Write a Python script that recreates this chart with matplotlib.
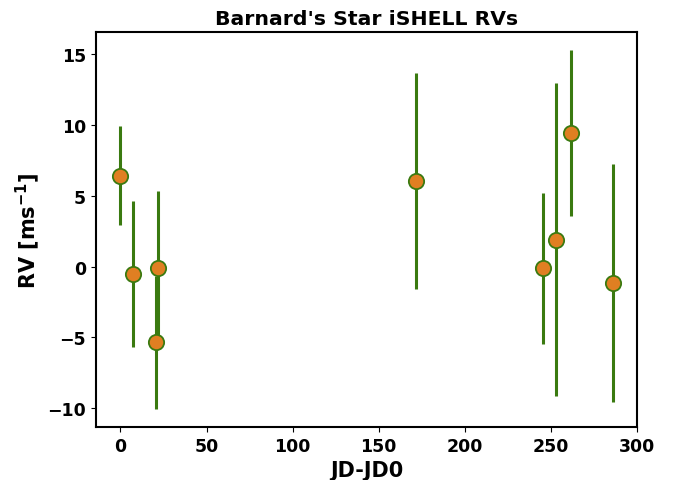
import numpy as np
import matplotlib
matplotlib.use('Agg')
import matplotlib.pyplot as plt

# Barnard's Star iSHELL RVs
jd = [0, 7, 22, 20.6, 172, 245.5, 253, 262, 286]
rv = [6.4, -0.5, -0.1, -5.35, 6.05, -0.13, 1.9, 9.4, -1.15]
rv_err = [3.5, 5.15, 5.4, 4.7, 7.6, 5.3, 11.05, 5.85, 8.4]

fig = plt.figure(figsize=(6.8, 4.81), dpi=100)
ax = fig.add_axes([0.141, 0.110, 0.796, 0.821])

ax.errorbar(jd, rv, yerr=rv_err, fmt='o', color='#3a7a10', ecolor='#3a7a10',
            elinewidth=2.2, markerfacecolor='#e07f22', markeredgecolor='#3a7a10',
            markeredgewidth=1.3, markersize=11, capsize=0)

ax.set_title("Barnard's Star iSHELL RVs", fontsize=14.7, fontweight='bold')
ax.set_xlabel('JD-JD0', fontsize=15, fontweight='bold')
ax.set_ylabel(r'RV [ms$^{\mathbf{-1}}$]', fontsize=15, fontweight='bold')
ax.set_xticks([0, 50, 100, 150, 200, 250, 300])
ax.set_yticks([-10, -5, 0, 5, 10, 15])
for lab in ax.get_xticklabels() + ax.get_yticklabels():
    lab.set_fontweight('bold')
    lab.set_fontsize(12.5)
for sp in ax.spines.values():
    sp.set_linewidth(1.5)

plt.savefig('out.png', dpi=100)
